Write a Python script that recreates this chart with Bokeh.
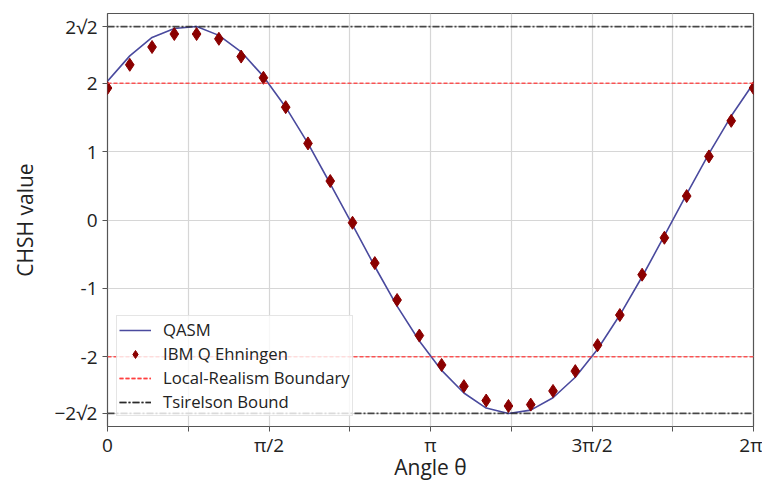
import numpy as np
from bokeh.plotting import figure
from bokeh.models import Range1d, FixedTicker, Legend
from bokeh.embed import file_html
from bokeh.resources import INLINE

# ---- data ----
n_points = 30
theta = list(np.linspace(0, 2 * np.pi, n_points))
qasm = [2.03, 2.40, 2.67, 2.80, 2.83, 2.70, 2.46, 2.10, 1.65, 1.12,
        0.53, -0.07, -0.68, -1.26, -1.77, -2.20, -2.53, -2.75, -2.83, -2.78,
        -2.60, -2.30, -1.89, -1.39, -0.83, -0.23, 0.38, 0.97, 1.52, 2.00]
ibm = [1.93, 2.27, 2.53, 2.72, 2.72, 2.65, 2.39, 2.08, 1.65, 1.12,
       0.57, -0.04, -0.63, -1.17, -1.69, -2.12, -2.43, -2.64, -2.72, -2.70,
       -2.50, -2.21, -1.83, -1.39, -0.80, -0.26, 0.35, 0.93, 1.45, 1.93]
local_bound = 2.0
tsirelson = 2 * np.sqrt(2)

x_ticks = [k * np.pi / 4 for k in range(9)]
x_labels = ["0", "", "π/2", "", "π", "", "3π/2", "", "2π"]
y_ticks = [-tsirelson, -2.0, -1.0, 0.0, 1.0, 2.0, tsirelson]
y_labels = ["−2√2", "-2", "-1", "0", "1", "2", "2√2"]

FONT = "Open Sans"
TXT = "#222222"

p = figure(width=762, height=483, output_backend="svg", toolbar_location=None,
           x_range=Range1d(0, 2 * np.pi), y_range=Range1d(-3.02, 3.02),
           min_border_left=107, min_border_right=9, min_border_top=13,
           min_border_bottom=50)

p.background_fill_color = "white"
p.outline_line_color = "#555555"
p.outline_line_width = 1.2

p.xaxis.ticker = FixedTicker(ticks=x_ticks)
p.yaxis.ticker = FixedTicker(ticks=y_ticks)
p.xaxis.major_label_overrides = {t: l for t, l in zip(x_ticks, x_labels)}
p.yaxis.major_label_overrides = {t: l for t, l in zip(y_ticks, y_labels)}

for ax in (p.xaxis, p.yaxis):
    ax.axis_line_color = None
    ax.major_tick_out = 5
    ax.major_tick_in = 0
    ax.major_tick_line_color = "#555555"
    ax.minor_tick_line_color = None
    ax.major_label_text_font = FONT
    ax.major_label_text_font_size = "19px"
    ax.major_label_text_color = TXT
    ax.axis_label_text_font = FONT
    ax.axis_label_text_font_size = "21px"
    ax.axis_label_text_font_style = "normal"
    ax.axis_label_text_color = TXT

p.xaxis.axis_label = "Angle θ"
p.yaxis.axis_label = "CHSH value"
p.xaxis.major_label_standoff = 0
p.xaxis.axis_label_standoff = -8
p.yaxis.major_label_standoff = 5
p.yaxis.axis_label_standoff = 12

p.grid.grid_line_color = "#d6d6d6"
p.grid.grid_line_width = 1.2

l_qasm = p.line(theta, qasm, line_color="#4a4a9e", line_width=1.6)
l_ibm = p.scatter(theta, ibm, marker="diamond", size=13,
                  fill_color="#8b0000", line_color="#8b0000")
xs_end = [theta[0], theta[-1]]
l_red1 = p.line(xs_end, [local_bound, local_bound], line_color="#ff3b3b",
                line_alpha=0.85, line_width=1.6, line_dash="4 2")
l_red2 = p.line(xs_end, [-local_bound, -local_bound], line_color="#ff3b3b",
                line_alpha=0.85, line_width=1.6, line_dash="4 2")
l_blk1 = p.line(xs_end, [tsirelson, tsirelson], line_color="#222222",
                line_alpha=0.8, line_width=1.6, line_dash="7 2 2 2")
l_blk2 = p.line(xs_end, [-tsirelson, -tsirelson], line_color="#222222",
                line_alpha=0.8, line_width=1.6, line_dash="7 2 2 2")

legend = Legend(items=[("QASM", [l_qasm]),
                       ("IBM Q Ehningen", [l_ibm]),
                       ("Local-Realism Boundary", [l_red1, l_red2]),
                       ("Tsirelson Bound", [l_blk1, l_blk2])],
                location=(9, 10))
legend.label_text_font = FONT
legend.label_text_font_size = "16.7px"
legend.label_text_color = TXT
legend.glyph_width = 32
legend.glyph_height = 20
legend.label_height = 20
legend.spacing = 1
legend.padding = 2
legend.margin = 0
legend.label_standoff = 12
legend.background_fill_alpha = 0.8
legend.border_line_color = "#cccccc"
legend.border_line_width = 1
p.add_layout(legend, "center")

open("out.html", "w").write(file_html(p, INLINE))
